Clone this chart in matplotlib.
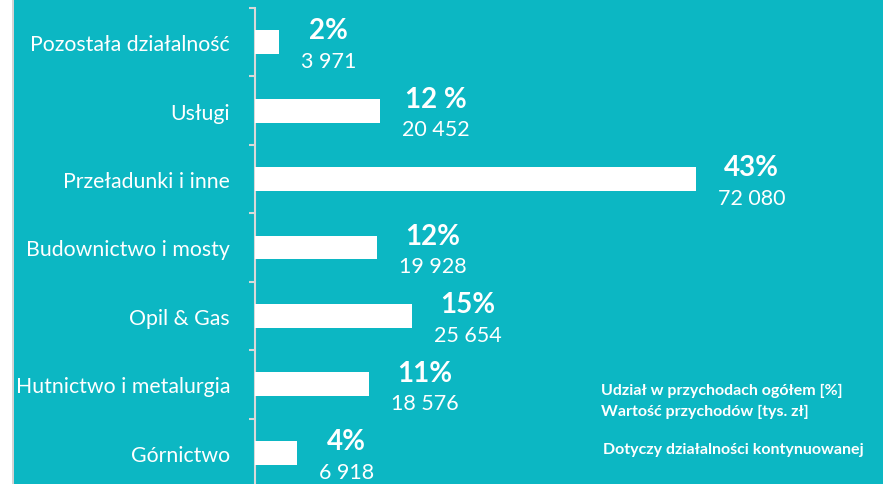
import matplotlib
matplotlib.use("Agg")
import matplotlib.pyplot as plt
from matplotlib.patches import Rectangle
import numpy as np

# Dane: segmenty, przychody [tys. zł] i udział w przychodach
categories = ["Pozostała działalność", "Usługi", "Przeładunki i inne",
              "Budownictwo i mosty", "Opil & Gas", "Hutnictwo i metalurgia",
              "Górnictwo"]
revenues = [3971, 20452, 72080, 19928, 25654, 18576, 6918]
shares = ["2%", "12 %", "43%", "12%", "15%", "11%", "4%"]

legend_lines = ["Udział w przychodach ogółem [%]", "Wartość przychodów [tys. zł]"]
note = "Dotyczy działalności kontynuowanej"

plt.rcParams['font.family'] = ['Lato', 'DejaVu Sans']

W, H = 883, 485
TEAL = '#0cb7c3'
GREY = '#d9d9d9'

fig = plt.figure(figsize=(W / 100, H / 100), dpi=100)
fig.patch.set_facecolor('white')
# tło: turkusowy panel z szarą krawędzią po lewej
fig.patches.append(Rectangle((14 / W, 0), 1, 1, transform=fig.transFigure,
                             facecolor=TEAL, edgecolor='none', zorder=-10))
fig.patches.append(Rectangle((12 / W, 0), 2 / W, 1, transform=fig.transFigure,
                             facecolor='#d4d4d4', edgecolor='none', zorder=-10))

ax = fig.add_axes([255 / W, 1 - 488 / H, 628 / W, 479 / H])
ax.set_facecolor('none')
ax.set_zorder(1)

y = np.arange(len(categories))
ax.barh(y, revenues, height=0.35, color='white', zorder=3)

ax.set_ylim(len(categories) - 0.5, -0.5)
ax.set_xlim(0, 628 / 0.006118)

for s in ['top', 'right', 'bottom']:
    ax.spines[s].set_visible(False)
ax.spines['left'].set_color(GREY)
ax.spines['left'].set_linewidth(1.5)
ax.set_xticks([])

ax.set_yticks(np.arange(-0.5, len(categories), 1))
ax.set_yticklabels([])
ax.tick_params(axis='y', which='major', length=4.5, width=1.5, color=GREY)
ax.set_yticks(y, minor=True)
ax.set_yticklabels(categories, minor=True)
ax.tick_params(axis='y', which='minor', length=0, pad=18, labelsize=15.3,
               labelcolor='white')

for i, (v, p) in enumerate(zip(revenues, shares)):
    val_t = ax.annotate(f"{v:,}".replace(',', ' '), xy=(v, i), xytext=(15.8, -13.5),
                        textcoords='offset points', ha='left', va='center',
                        fontsize=15.5, color='white')
    ax.annotate(p, xy=(0.5, i), xycoords=(val_t, 'data'), xytext=(0, 8.5),
                textcoords='offset points', ha='center', va='center',
                fontsize=20, fontweight='bold', color='white')

fig.text(601 / W, 1 - 391 / H, legend_lines[0], fontsize=11.5, fontweight='bold',
         color='white', va='center', ha='left')
fig.text(601 / W, 1 - 412 / H, legend_lines[1], fontsize=11.5, fontweight='bold',
         color='white', va='center', ha='left')
fig.text(603 / W, 1 - 450 / H, note, fontsize=11.5, fontweight='bold',
         color='white', va='center', ha='left')

fig.savefig("out.png", dpi=100, facecolor=fig.get_facecolor())
